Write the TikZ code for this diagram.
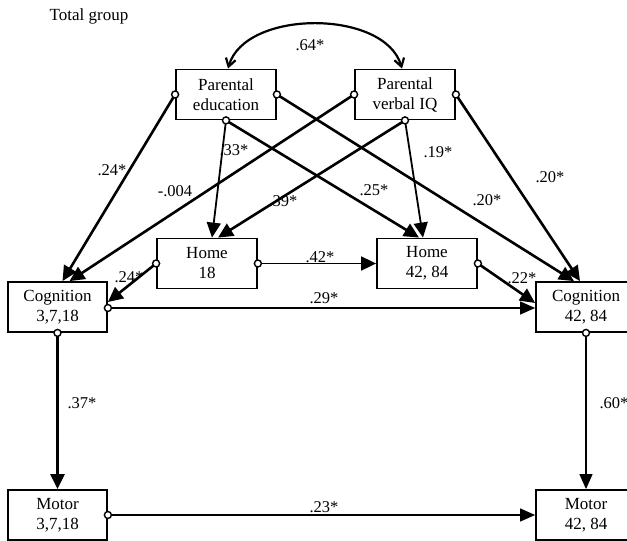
\documentclass[tikz,border=0pt]{standalone}
\usepackage{fontspec}
\setmainfont{Liberation Serif}
\usetikzlibrary{arrows.meta}
\begin{document}
\begin{tikzpicture}[x=1pt,y=-1pt,
  every node/.style={font=\fontsize{17}{20}\selectfont},
  box/.style={draw,line width=1.8pt,rectangle,minimum width=100pt,minimum height=50pt,align=center,inner sep=0pt},
  lbl/.style={inner sep=0pt,font=\fontsize{16.5}{18}\selectfont},
  mk/.style={draw,circle,fill=white,inner sep=0pt,minimum size=7pt,line width=1.4pt},
  thickarr/.style={line width=2.6pt,-{Triangle[length=15pt,width=14pt]}},
  medarr/.style={line width=1.8pt,-{Triangle[length=15pt,width=14pt]}},
  thinarr/.style={line width=1.2pt,-{Triangle[length=15pt,width=13pt]}}]
\useasboundingbox (0,0) rectangle (627,541);
\fill[white] (0,0) rectangle (627,541);

\node[inner sep=0pt] (title) at (89,16) {Total group};

\node[box] (pe) at (226,94.5) {Parental\\education};
\node[box] (pv) at (405,94.5) {Parental\\verbal IQ};
\node[box] (h1) at (207,263.5) {Home\\18};
\node[box] (h2) at (427,263.5) {Home\\42, 84};
\node[box,minimum width=99pt] (c1) at (57.5,307) {Cognition\\3,7,18};
\node[box] (c2) at (586,307) {Cognition\\42, 84};
\node[box,minimum width=99pt] (m1) at (57.5,515) {Motor\\3,7,18};
\node[box] (m2) at (586,515) {Motor\\42, 84};

% correlation curve
\draw[line width=2.2pt,{Straight Barb[length=8pt,width=10pt]}-{Straight Barb[length=8pt,width=10pt]}]
  ([xshift=2pt]pe.north) .. controls (245,9) and (385,9) .. ([xshift=-3pt]pv.north);

% paths
\draw[thickarr] (pe.west) -- ([xshift=5pt]c1.north);
\draw[thickarr] (pv.west) -- ([xshift=12pt]c1.north);
\draw[medarr] (pe.south) -- ([xshift=5pt]h1.north);
\draw[thickarr] (pv.south) -- ([xshift=11pt]h1.north);
\draw[thickarr] (pe.south) -- ([xshift=-8pt]h2.north);
\draw[medarr] (pv.south) -- ([xshift=-4pt]h2.north);
\draw[thickarr] (pe.east) -- ([xshift=-12pt]c2.north);
\draw[thickarr] (pv.east) -- ([xshift=-6pt]c2.north);
\draw[thickarr] (h1.west) -- ([yshift=5pt]c1.east);
\draw[medarr] (h1.east) -- (h2.west);
\draw[thickarr] (h2.east) -- ([yshift=4pt]c2.west);
\draw[thinarr] ([yshift=-1pt]c1.east) -- ([yshift=-1pt]c2.west);
\draw[thickarr] (c1.south) -- (m1.north);
\draw[thinarr] (c2.south) -- (m2.north);
\draw[thinarr] (m1.east) -- (m2.west);

% start markers
\node[mk] (k1) at (pe.west) {};
\node[mk] (k2) at (pe.east) {};
\node[mk] (k3) at (pe.south) {};
\node[mk] (k4) at (pv.west) {};
\node[mk] (k5) at (pv.east) {};
\node[mk] (k6) at (pv.south) {};
\node[mk] (k7) at (h1.west) {};
\node[mk] (k8) at (h1.east) {};
\node[mk] (k9) at (h2.east) {};
\node[mk] (k10) at ([yshift=-1pt]c1.east) {};
\node[mk] (k11) at (c1.south) {};
\node[mk] (k12) at (c2.south) {};
\node[mk] (k13) at (m1.east) {};

% labels
\node[lbl] (l64) at (310,45) {.64*};
\node[lbl] (l24a) at (112,170) {.24*};
\node[lbl] (l33) at (234,150) {.33*};
\node[lbl] (l19) at (438,152) {.19*};
\node[lbl] (l20b) at (550,177) {.20*};
\node[lbl] (l004) at (175,191) {-.004};
\node[lbl] (l25) at (374,190) {.25*};
\node[lbl] (l39) at (283,201) {.39*};
\node[lbl] (l20a) at (487,200) {.20*};
\node[lbl] (l24b) at (129,277) {.24*};
\node[lbl] (l42) at (320,257) {.42*};
\node[lbl] (l22) at (522,278) {.22*};
\node[lbl] (l29) at (324,298) {.29*};
\node[lbl] (l37) at (82,403) {.37*};
\node[lbl] (l60) at (614,403) {.60*};
\node[lbl] (l23) at (324,507) {.23*};
\end{tikzpicture}
\end{document}
